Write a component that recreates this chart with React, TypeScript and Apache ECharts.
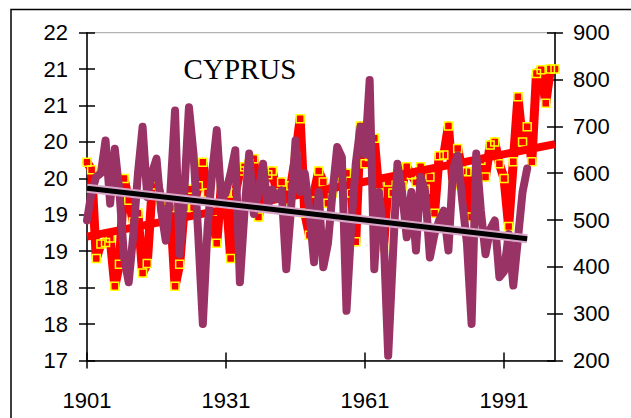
import React, { useEffect, useRef } from "react";
import * as echarts from "echarts";

const title = "CYPRUS";
const startYear = 1901;
const endYear = 2002;
const xTickYears = [1901, 1931, 1961, 1991];

// Mean temperature (°C, left axis), 1901–2002
const temperature = [
  19.72, 19.62, 18.4, 18.6, 18.62, 18.68, 18.02, 18.32, 19.5, 19.2,
  18.9, 19.02, 18.2, 18.33, 19.3, 19.5, 19.2, 19.05, 19.1, 18.02,
  18.32, 19.1, 19.35, 19.1, 19.4, 19.72, 19.3, 19.05, 18.61, 19.4,
  19.3, 18.4, 19.3, 19.6, 19.66, 19.7, 19.77, 18.97, 19.4, 19.55,
  19.6, 19.3, 19.45, 19.2, 19.4, 19.8, 20.32, 19.02, 18.72, 19.3,
  19.6, 19.45, 19.16, 19.3, 19.55, 19.45, 19.57, 19.3, 18.63, 20.22,
  19.7, 19.8, 20.05, 19.3, 18.55, 19.45, 19.3, 19.55, 19.4, 19.66,
  19.55, 19.45, 19.66, 19.35, 19.52, 19.02, 19.81, 19.82, 20.22, 19.41,
  19.91, 19.6, 19.59, 18.97, 19.6, 19.75, 19.52, 19.96, 20.0, 19.7,
  19.5, 18.84, 19.73, 20.62, 20.0, 20.21, 19.73, 20.94, 20.99, 20.53,
  21.0, 21.0,
];

// Precipitation (mm, right axis), 1901–1996
const precipitation = [
  499, 560, 592, 600, 670, 535, 652, 560, 420, 367,
  470, 600, 699, 549, 600, 631, 520, 456, 560, 734,
  427, 560, 741, 640, 470, 278, 480, 600, 692, 542,
  560, 600, 649, 367, 520, 642, 513, 560, 620, 527,
  565, 545, 563, 395, 520, 670, 560, 600, 520, 410,
  560, 399, 450, 560, 656, 634, 306, 480, 620, 699,
  640, 799, 395, 560, 470, 210, 420, 620, 560, 463,
  560, 435, 592, 560, 420, 470, 499, 520, 435, 610,
  638, 540, 450, 278, 642, 520, 427, 480, 499, 378,
  390, 470, 360, 460, 560, 610,
];

// Linear trend end points
const tempTrendYears = [1901, 2002];
const tempTrendValues = [18.7, 19.97];
const precipTrendYears = [1901, 1996];
const precipTrendValues = [568, 460];

const leftAxis = { min: 17, max: 21.5, interval: 0.5 };
const rightAxis = { min: 200, max: 900, interval: 100 };

const AXIS_FONT = "'Liberation Sans', Arial, sans-serif";

export default function App() {
  const ref = useRef<HTMLDivElement>(null);

  useEffect(() => {
    if (!ref.current) return;
    const chart = echarts.init(ref.current, undefined, { renderer: "svg" });

    const tempData = temperature.map((v, i) => [startYear + i, v]);
    const precipData = precipitation.map((v, i) => [startYear + i, v]);
    const tempTrend = tempTrendYears.map((y, i) => [y, tempTrendValues[i]]);
    const precipTrend = precipTrendYears.map((y, i) => [y, precipTrendValues[i]]);

    const labelStyle = { color: "#000", fontSize: 22, fontFamily: AXIS_FONT };
    const axisLineStyle = { color: "#000", width: 1.5 };

    const xBase = {
      type: "value" as const,
      min: startYear,
      max: endYear,
      position: "bottom" as const,
      splitLine: { show: false },
    };
    const yLeftBase = {
      type: "value" as const,
      position: "left" as const,
      ...leftAxis,
      splitLine: { show: false },
    };
    const yRightBase = {
      type: "value" as const,
      position: "right" as const,
      ...rightAxis,
      splitLine: { show: false },
    };

    chart.setOption({
      animation: false,
      backgroundColor: "#fff",
      grid: {
        left: 87,
        right: 76,
        top: 32.7,
        bottom: 57.5,
        show: true,
        borderColor: "#a0a0a0",
        borderWidth: 1,
        backgroundColor: "transparent",
      },
      xAxis: [
        {
          ...xBase,
          axisLine: { show: true, lineStyle: axisLineStyle },
          axisTick: { show: true, length: 8, inside: false, customValues: xTickYears, lineStyle: axisLineStyle },
          axisLabel: {
            ...labelStyle,
            margin: 29,
            customValues: xTickYears,
            formatter: (v: number) => String(v),
          },
        },
        {
          ...xBase,
          axisLine: { show: false },
          axisTick: { show: true, length: 8, inside: true, customValues: xTickYears, lineStyle: axisLineStyle },
          axisLabel: { show: false },
        },
      ],
      yAxis: [
        {
          ...yLeftBase,
          axisLine: { show: true, lineStyle: axisLineStyle },
          axisTick: { show: true, length: 8, inside: false, lineStyle: axisLineStyle },
          axisLabel: {
            ...labelStyle,
            margin: 19,
            formatter: (v: number) => String(Math.round(v)),
          },
        },
        {
          ...yRightBase,
          axisLine: { show: true, lineStyle: axisLineStyle },
          axisTick: { show: true, length: 8, inside: false, lineStyle: axisLineStyle },
          axisLabel: { ...labelStyle, margin: 18 },
        },
        {
          ...yLeftBase,
          axisLine: { show: false },
          axisTick: { show: true, length: 8, inside: true, lineStyle: axisLineStyle },
          axisLabel: { show: false },
        },
        {
          ...yRightBase,
          axisLine: { show: false },
          axisTick: { show: true, length: 8, inside: true, lineStyle: axisLineStyle },
          axisLabel: { show: false },
        },
      ],
      graphic: [
        {
          type: "rect",
          silent: true,
          shape: { x: 11, y: 9.5, width: 700, height: 500 },
          style: { fill: "none", stroke: "#000", lineWidth: 1.5 },
          z: 100,
        },
        {
          type: "text",
          silent: true,
          x: 240,
          y: 68.5,
          style: {
            text: title,
            fill: "#000",
            font: "29px 'Liberation Serif', 'Times New Roman', serif",
            textAlign: "center",
            textVerticalAlign: "middle",
          },
          z: 100,
        },
      ],
      series: [
        {
          name: "Temperature",
          type: "line",
          z: 2,
          xAxisIndex: 0,
          yAxisIndex: 0,
          data: tempData,
          symbol: "rect",
          symbolSize: 8,
          showSymbol: true,
          showAllSymbol: true,
          silent: true,
          lineStyle: { color: "#ff0000", width: 9, cap: "round", join: "round" },
          itemStyle: { color: "rgba(0,0,0,0)", borderColor: "#ffff00", borderWidth: 1.5 },
          emphasis: { disabled: true },
        },
        {
          name: "Temperature trend",
          type: "line",
          z: 3,
          xAxisIndex: 0,
          yAxisIndex: 0,
          data: tempTrend,
          symbol: "none",
          silent: true,
          lineStyle: { color: "#ff0000", width: 8 },
          emphasis: { disabled: true },
        },
        {
          name: "Precipitation",
          type: "line",
          z: 4,
          xAxisIndex: 0,
          yAxisIndex: 1,
          data: precipData,
          symbol: "none",
          silent: true,
          lineStyle: { color: "#993366", width: 8, cap: "round", join: "round" },
          emphasis: { disabled: true },
        },
        {
          name: "Precipitation trend outline",
          type: "line",
          z: 5,
          xAxisIndex: 0,
          yAxisIndex: 1,
          data: precipTrend,
          symbol: "none",
          silent: true,
          lineStyle: { color: "#d9a6c8", width: 9 },
          emphasis: { disabled: true },
        },
        {
          name: "Precipitation trend",
          type: "line",
          z: 6,
          xAxisIndex: 0,
          yAxisIndex: 1,
          data: precipTrend,
          symbol: "none",
          silent: true,
          lineStyle: { color: "#000", width: 5 },
          emphasis: { disabled: true },
        },
      ],
    });

    return () => chart.dispose();
  }, []);

  return (
    <div
      ref={ref}
      style={{ position: "absolute", left: 0, top: 0, width: 631, height: 418, background: "#fff" }}
    />
  );
}
